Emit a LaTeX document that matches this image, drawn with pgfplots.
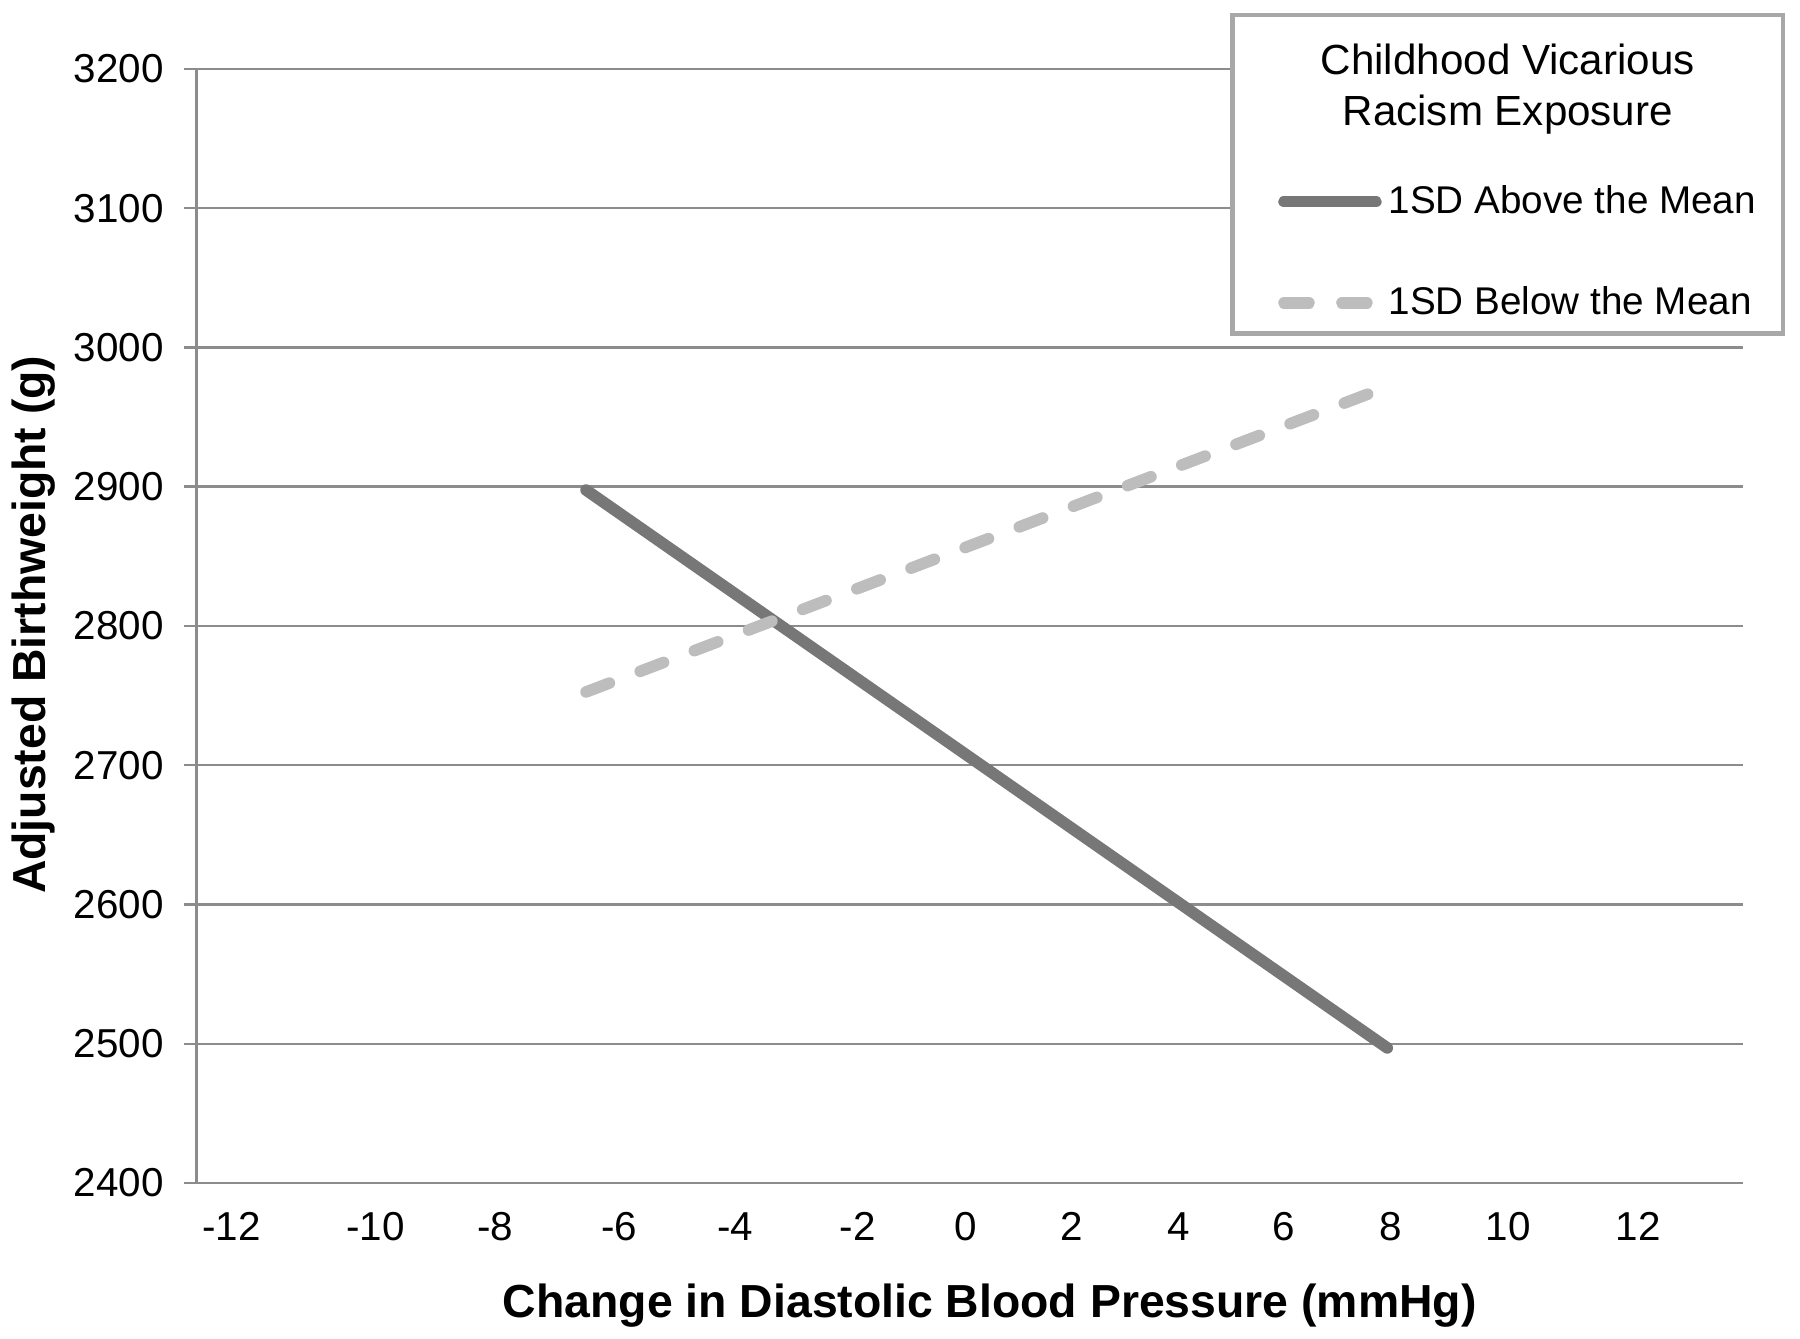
\documentclass[border=0pt]{standalone}
\usepackage{fontspec}
\setmainfont{Liberation Sans}
\usepackage{pgfplots}
\pgfplotsset{compat=1.18}
\definecolor{gridgray}{HTML}{8C8C8C}
\definecolor{darkline}{HTML}{777777}
\definecolor{lightline}{HTML}{BDBDBD}
\definecolor{boxgray}{HTML}{A8A8A8}

\begin{document}
\begin{tikzpicture}
\begin{axis}[
  width=15.48cm, height=11.15cm, scale only axis,
  xmin=-12.6, xmax=13.79, ymin=2400, ymax=3200,
  axis x line=bottom, axis y line=left,
  axis line style={gridgray, line width=0.7pt, -},
  xtick={-12,-9.545,-7.5,-5.386,-3.409,-1.312,0.528,2.335,4.159,5.949,7.772,9.784,12},
  xticklabels={-12,-10,-8,-6,-4,-2,0,2,4,6,8,10,12},
  ytick={2400,2500,...,3200},
  ymajorgrids, grid style={gridgray, line width=0.7pt},
  tick align=outside, major tick length=0.12cm,
  major x tick style={draw=none},
  major y tick style={gridgray, line width=0.7pt},
  /pgf/number format/.cd, set thousands separator={}, assume math mode=true,
  /pgfplots/.cd,
  xticklabel style={font=\fontsize{11.5}{13}\selectfont, anchor=center, yshift=-0.315cm},
  yticklabel style={font=\fontsize{11.5}{13}\selectfont, anchor=east, inner sep=0pt, xshift=-0.2cm},
  xlabel={Change in Diastolic Blood Pressure (mmHg)},
  ylabel={Adjusted Birthweight (g)},
  xlabel style={font=\bfseries\fontsize{13.2}{15}\selectfont, at={(axis description cs:0.513,-0.110)}, anchor=center},
  ylabel style={font=\bfseries\fontsize{13.2}{15}\selectfont, at={(axis description cs:-0.1053,0.501)}, anchor=center},
  clip=false,
  legend style={draw=none, fill=none, inner sep=0pt, row sep=0.54cm,
    at={(axis description cs:0.699,0.8354)}, anchor=west,
    font=\fontsize{11}{13}\selectfont},
  legend cell align=left,
  legend image code/.code={\draw[#1] (0cm,0cm) -- (0.92cm,0cm);},
]
\draw[boxgray, fill=white, line width=1.3pt]
  (axis description cs:0.6699,1.0484) rectangle (axis description cs:1.0258,0.7623);
\node[font=\fontsize{12}{14.4}\selectfont, align=center]
  at (axis description cs:0.8479,0.9821) {Childhood Vicarious\\Racism Exposure};
\addplot[darkline, line width=3.3pt, line cap=round] coordinates {
  (-5.95,2897.6) (7.72,2497.0)
};
\addlegendentry{1SD Above the Mean}
\addplot[lightline, line width=3.3pt, line cap=round, dash pattern=on 0.25cm off 0.33cm] coordinates {
  (-5.95,2752.6) (7.72,2971.8)
};
\addlegendentry{1SD Below the Mean}
\end{axis}
\path (current axis.south west) ++(-1.95cm,-1.56cm);
\path (current axis.north east) ++(0.57cm,0.69cm);
\end{tikzpicture}
\end{document}
